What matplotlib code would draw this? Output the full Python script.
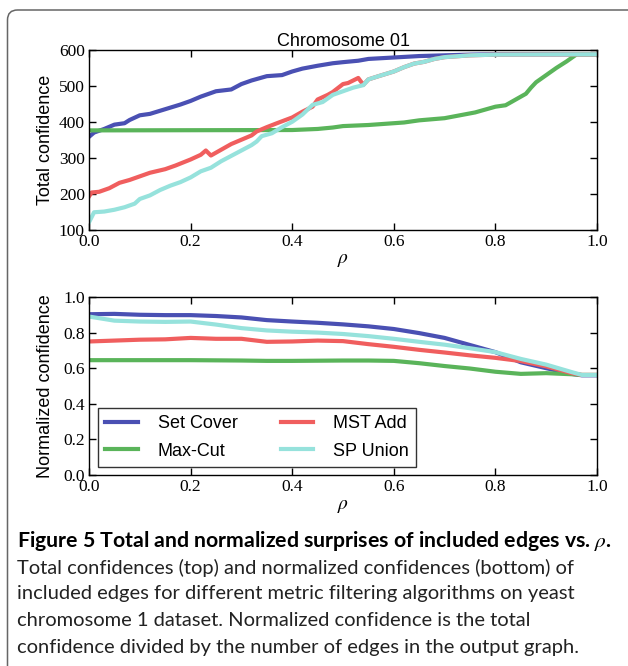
import matplotlib
matplotlib.use("Agg")
import matplotlib.pyplot as plt
from matplotlib.patches import FancyBboxPatch
from matplotlib.transforms import IdentityTransform

# ---- data ----
rho_sc = [0, .01, .03, .05, .07, .08, .10, .12, .15, .18, .20, .22, .25, .28, .30, .32,
          .35, .38, .40, .42, .45, .48, .50, .53, .55, .60, .65, .70, .75, .80, 1.0]
sc_total = [358, 370, 380, 392, 396, 405, 418, 422, 435, 448, 458, 470, 485, 490, 505, 515,
            527, 530, 540, 548, 556, 563, 566, 570, 575, 579, 583, 585, 587, 588, 588]

rho_mc = [0, .40, .45, .48, .50, .55, .60, .62, .65, .70, .73, .76, .80, .82, .84, .86,
          .87, .88, .90, .92, .94, .96, 1.0]
mc_total = [376, 377, 380, 384, 388, 391, 396, 398, 404, 410, 418, 426, 442, 446, 462, 478,
            495, 510, 530, 550, 568, 588, 588]

rho_mst = [0, .005, .02, .04, .06, .08, .10, .12, .15, .17, .20, .22, .23, .24, .26, .28,
           .30, .32, .33, .35, .37, .40, .42, .44, .45, .47, .48, .50, .51, .53, .54,
           .55, .57, .60, .62, .64, .66, .68, .70, .75, .80, 1.0]
mst_total = [192, 203, 205, 215, 230, 238, 248, 258, 268, 278, 295, 308, 320, 306, 322, 338,
             350, 362, 373, 385, 396, 412, 428, 442, 462, 475, 483, 505, 508, 522, 503,
             518, 527, 540, 552, 562, 567, 575, 580, 585, 587, 588]

rho_sp = [0, .01, .03, .05, .07, .09, .10, .12, .14, .16, .18, .20, .22, .24, .26, .28,
          .30, .32, .33, .34, .36, .38, .40, .42, .44, .46, .48, .50, .52, .54, .55, .57,
          .60, .62, .64, .66, .68, .70, .75, .80, 1.0]
sp_total = [120, 148, 150, 155, 162, 172, 185, 195, 210, 222, 232, 245, 262, 272, 290, 305,
            320, 335, 345, 360, 368, 385, 400, 420, 447, 455, 475, 485, 495, 502, 518, 527,
            540, 552, 562, 567, 575, 580, 585, 587, 588]

rho_n = [0, .05, .10, .15, .20, .25, .30, .35, .40, .45, .50, .55, .60, .65, .70, .75,
         .80, .85, .90, .95, .97, 1.0]
sc_norm = [0.903, 0.905, 0.900, 0.898, 0.898, 0.893, 0.885, 0.870, 0.862, 0.855, 0.846,
           0.835, 0.820, 0.797, 0.770, 0.730, 0.690, 0.633, 0.600, 0.568, 0.560, 0.560]
mc_norm = [0.645, 0.645, 0.645, 0.645, 0.645, 0.644, 0.643, 0.641, 0.641, 0.642, 0.643,
           0.643, 0.641, 0.628, 0.612, 0.598, 0.580, 0.568, 0.572, 0.566, 0.562, 0.562]
mst_norm = [0.750, 0.755, 0.760, 0.762, 0.770, 0.765, 0.765, 0.748, 0.750, 0.755, 0.752,
            0.735, 0.720, 0.703, 0.688, 0.672, 0.658, 0.640, 0.610, 0.572, 0.562, 0.562]
sp_norm = [0.890, 0.867, 0.862, 0.860, 0.862, 0.845, 0.825, 0.812, 0.805, 0.800, 0.792,
           0.780, 0.765, 0.748, 0.732, 0.712, 0.690, 0.652, 0.620, 0.578, 0.562, 0.562]

names = ["Set Cover", "Max-Cut", "MST Add", "SP Union"]
colors = ["#4a50b3", "#5ab45a", "#f05e5e", "#96e2dc"]

x_ticks = [0, .2, .4, .6, .8, 1.0]
x_labels = ["0.0", "0.2", "0.4", "0.6", "0.8", "1.0"]
y1_ticks = [100, 200, 300, 400, 500, 600]
y1_labels = ["100", "200", "300", "400", "500", "600"]
y2_ticks = [0, .2, .4, .6, .8, 1.0]
y2_labels = ["0.0", "0.2", "0.4", "0.6", "0.8", "1.0"]

SANS = "Liberation Sans"
SERIF = "Liberation Serif"
plt.rcParams['font.family'] = 'serif'
plt.rcParams['font.serif'] = [SERIF, 'DejaVu Serif']
plt.rcParams['mathtext.fontset'] = 'stix'

fig = plt.figure(figsize=(6.28, 6.66), dpi=100)
ax1 = fig.add_axes([0.1417, 0.6554, 0.809, 0.2696])
ax2 = fig.add_axes([0.1417, 0.2868, 0.809, 0.2673])

lw = 3.0
ax1.plot(rho_sc, sc_total, color=colors[0], lw=lw)
ax1.plot(rho_mc, mc_total, color=colors[1], lw=lw)
ax1.plot(rho_mst, mst_total, color=colors[2], lw=lw)
ax1.plot(rho_sp, sp_total, color=colors[3], lw=lw)

ax2.plot(rho_n, sc_norm, color=colors[0], lw=lw, label=names[0])
ax2.plot(rho_n, mc_norm, color=colors[1], lw=lw, label=names[1])
ax2.plot(rho_n, mst_norm, color=colors[2], lw=lw, label=names[2])
ax2.plot(rho_n, sp_norm, color=colors[3], lw=lw, label=names[3])

ax1.set_xlim(0, 1)
ax1.set_ylim(100, 600)
ax2.set_xlim(0, 1)
ax2.set_ylim(0, 1)

tick_font = dict(fontfamily=SERIF, fontsize=12.5)
ax1.set_yticks(y1_ticks, labels=y1_labels, **tick_font)
ax2.set_yticks(y2_ticks, labels=y2_labels, **tick_font)
for ax in (ax1, ax2):
    ax.set_xticks(x_ticks, labels=x_labels, **tick_font)
    ax.tick_params(direction='in', top=True, right=True, length=5, width=1, pad=3)
    for s in ax.spines.values():
        s.set_linewidth(1.0)
    ax.set_xlabel(r"$\rho$", fontsize=14, labelpad=2)

ax1.set_title("Chromosome 01", family=SANS, fontsize=13, pad=3)
ax1.set_ylabel("Total confidence", family=SANS, fontsize=13)
ax2.set_ylabel("Normalized confidence", family=SANS, fontsize=13)
ax1.yaxis.set_label_coords(-0.068, 0.5)
ax2.yaxis.set_label_coords(-0.068, 0.5)

leg = ax2.legend(ncol=2, loc='lower left', bbox_to_anchor=(0.018, 0.045),
                 borderaxespad=0, prop={'family': SANS, 'size': 13},
                 handlelength=1.8, handletextpad=1.1, columnspacing=2.4,
                 labelspacing=0.6, borderpad=0.4, fancybox=False)
leg.get_frame().set_edgecolor('black')
leg.get_frame().set_linewidth(1.0)

# caption
fig.text(17 / 628, 1 - 541 / 666, r"Figure 5 Total and normalized surprises of included edges vs. $\rho$.",
         family="Lato", fontweight='bold', fontsize=15.3, va='center', ha='left')
cap_lines = [
    "Total confidences (top) and normalized confidences (bottom) of",
    "included edges for different metric filtering algorithms on yeast",
    "chromosome 1 dataset. Normalized confidence is the total",
    "confidence divided by the number of edges in the output graph.",
]
for i, line in enumerate(cap_lines):
    fig.text(17 / 628, 1 - (567.5 + 26.5 * i) / 666, line, family="Lato",
             fontsize=14.5, va='center', ha='left', color='#222222')

# rounded frame around the figure
frame = FancyBboxPatch((7.5, -60), 700, 656 + 60, boxstyle="round,pad=0,rounding_size=10",
                       transform=IdentityTransform(), facecolor='none',
                       edgecolor='#666666', lw=1.1)
fig.add_artist(frame)

fig.savefig("out.png", dpi=100)
